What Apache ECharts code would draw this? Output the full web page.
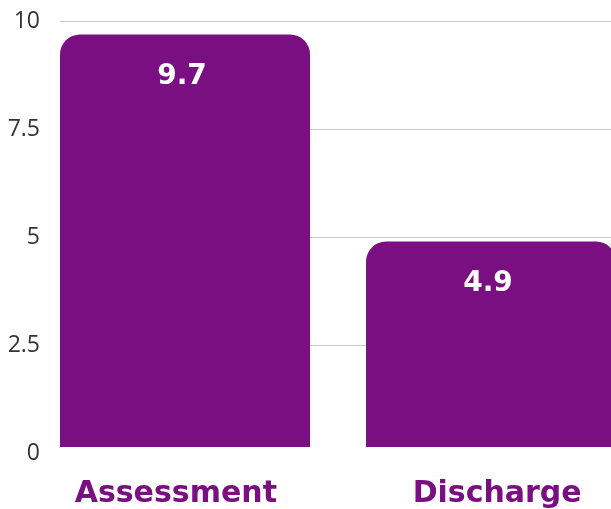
<!DOCTYPE html>
<html>
<head>
<meta charset="UTF-8">
<title>Assessment vs Discharge</title>
<script src="https://cdn.jsdelivr.net/npm/echarts@6/dist/echarts.min.js"></script>
<style>
  html, body { margin: 0; padding: 0; background: #fff; }
  #chart { width: 611px; height: 509px; }
</style>
</head>
<body>
<div id="chart"></div>
<script>
// data
var categories = ['Assessment', 'Discharge'];
var values = [9.7, 4.9];
var yTicks = [0, 2.5, 5, 7.5, 10];

var purple = '#7a0f82';
var boldFont = 'DejaVu Sans, Verdana, sans-serif';

var chart = echarts.init(document.getElementById('chart'));

// x is a value axis so the first bar can sit flush at the grid's left edge
chart.setOption({
    animation: false,
    grid: { left: 60, right: 0, top: 21.5, bottom: 56, containLabel: false },
    xAxis: {
        type: 'value',
        min: -0.4085,
        max: 1.392,
        axisLine: { show: false },
        axisTick: { show: false },
        splitLine: { show: false },
        axisLabel: {
            // the category names sit a little off the bar centres in the original
            customValues: [-0.03, 1.02],
            formatter: function (v) { return categories[Math.round(v)]; },
            margin: 26,
            color: purple,
            fontFamily: boldFont,
            fontWeight: 'bold',
            fontSize: 30
        }
    },
    yAxis: {
        type: 'value',
        min: yTicks[0],
        max: yTicks[yTicks.length - 1],
        interval: 2.5,
        axisLine: { show: false },
        axisTick: { show: false },
        axisLabel: {
            margin: 20,
            color: '#333',
            fontFamily: 'Open Sans, sans-serif',
            fontSize: 23
        },
        splitLine: {
            lineStyle: { color: ['transparent', '#c8c8c8', '#c8c8c8', '#c8c8c8', '#c8c8c8'], width: 1 }
        }
    },
    series: [{
        type: 'bar',
        barWidth: 250,
        data: values.map(function (v, i) { return [i, v]; }),
        itemStyle: { color: purple, borderRadius: [20, 20, 0, 0] },
        label: {
            show: true,
            position: 'insideTop',
            distance: 28,
            offset: [-3, 0],
            formatter: function (p) { return p.value[1]; },
            color: '#fff',
            fontFamily: boldFont,
            fontWeight: 'bold',
            fontSize: 28
        }
    }]
});

// the bars stop a few px short of the zero line in the original
var y0 = chart.convertToPixel({ yAxisIndex: 0 }, 0);
chart.setOption({
    graphic: [{
        type: 'rect',
        z: 100,
        shape: { x: 60, y: y0 - 6, width: 560, height: 8 },
        style: { fill: '#fff' }
    }]
});
</script>
</body>
</html>
